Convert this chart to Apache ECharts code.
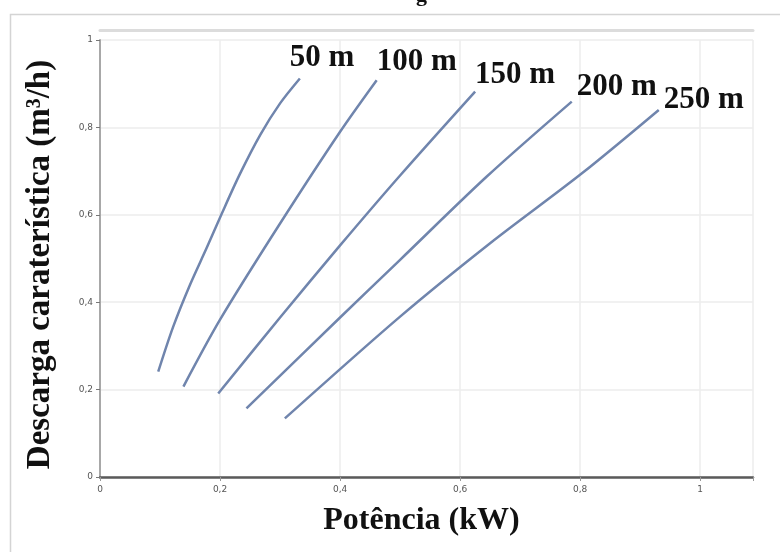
<!DOCTYPE html>
<html>
<head>
<meta charset="utf-8">
<script src="https://cdn.jsdelivr.net/npm/echarts@6/dist/echarts.min.js"></script>
<style>html,body{margin:0;padding:0;background:#fff}#c{width:780px;height:552px}</style>
</head>
<body>
<div id="c"></div>
<script>
// ---- data ----
const seriesNames = ['50 m', '100 m', '150 m', '200 m', '250 m'];
const potencia50 = [0.097, 0.122, 0.150, 0.178, 0.203, 0.233, 0.267, 0.300, 0.333];
const descarga50 = [0.241, 0.344, 0.440, 0.525, 0.603, 0.693, 0.783, 0.855, 0.912];
const potencia100 = [0.139, 0.200, 0.300, 0.400, 0.461];
const descarga100 = [0.207, 0.360, 0.580, 0.790, 0.908];
const potencia150 = [0.197, 0.300, 0.400, 0.500, 0.625];
const descarga150 = [0.191, 0.365, 0.530, 0.690, 0.882];
const potencia200 = [0.244, 0.400, 0.500, 0.644, 0.786];
const descarga200 = [0.157, 0.365, 0.497, 0.687, 0.859];
const potencia250 = [0.308, 0.500, 0.650, 0.803, 0.931];
const descarga250 = [0.134, 0.367, 0.535, 0.695, 0.840];
const xTicks = [0, 0.2, 0.4, 0.6, 0.8, 1];
const yTicks = [0, 0.2, 0.4, 0.6, 0.8, 1];

const xs = [potencia50, potencia100, potencia150, potencia200, potencia250];
const ys = [descarga50, descarga100, descarga150, descarga200, descarga250];
const labelOffsets = [[-10, -20], [0, -18], [0, -17], [5, -15], [5, -10]];

const fmt = v => String(+v.toFixed(2)).replace('.', ',');
const serif = '"Liberation Serif", "DejaVu Serif", serif';
const lineColor = '#7085ad';

const chart = echarts.init(document.getElementById('c'), null, {renderer: 'canvas'});
chart.setOption({
  animation: false,
  backgroundColor: '#fff',
  graphic: [{
    type: 'rect', left: 8, top: 12, silent: true,
    shape: {width: 800, height: 560},
    style: {fill: 'none', stroke: '#d4d4d4', lineWidth: 1.5}
  }, {
    type: 'text', left: 416, top: -16, silent: true,
    style: {text: 'g', font: 'bold 22px ' + serif, fill: '#111'}
  }],
  grid: {left: 100, right: 27, top: 40, bottom: 75, containLabel: false, outerBoundsMode: 'none'},
  xAxis: [{
    type: 'value', min: 0, max: 1.088, interval: 0.2,
    name: 'Potência (kW)', nameLocation: 'middle', nameGap: 28,
    nameTextStyle: {fontFamily: serif, fontWeight: 'bold', fontSize: 32, color: '#111', padding: [0, 10, 0, 0]},
    axisLine: {show: true, lineStyle: {color: '#5a5a5a', width: 2.5}},
    axisTick: {show: true, length: 4, lineStyle: {color: '#999'}},
    axisLabel: {
      fontSize: 9, color: '#555', fontFamily: 'DejaVu Sans', margin: 8,
      formatter: v => xTicks.includes(+v.toFixed(2)) ? fmt(v) : ''
    },
    splitLine: {show: true, lineStyle: {color: '#ececec', width: 1.5}}
  }, {
    type: 'value', position: 'top', offset: 10, min: 0, max: 1.088,
    axisLine: {show: true, onZero: false, lineStyle: {color: '#dcdcdc', width: 3}},
    axisTick: {show: false}, axisLabel: {show: false}, splitLine: {show: false}
  }],
  yAxis: {
    type: 'value', min: 0, max: 1, interval: 0.2,
    name: 'Descarga caraterística (m³/h)', nameLocation: 'middle', nameGap: 43,
    nameTextStyle: {fontFamily: serif, fontWeight: 'bold', fontSize: 33, color: '#111', padding: [0, 12, 0, 0]},
    axisLine: {show: true, lineStyle: {color: '#a8a8a8', width: 2}},
    axisTick: {show: true, length: 4, lineStyle: {color: '#777'}},
    axisLabel: {
      fontSize: 9, color: '#555', fontFamily: 'DejaVu Sans', margin: 7,
      formatter: v => yTicks.includes(+v.toFixed(2)) ? fmt(v) : ''
    },
    splitLine: {show: true, lineStyle: {color: '#ececec', width: 1.5}}
  },
  series: seriesNames.map((name, i) => ({
    name, type: 'line', smooth: 0.3, symbol: 'none',
    data: xs[i].map((x, j) => [x, ys[i][j]]),
    lineStyle: {color: lineColor, width: 2.5},
    endLabel: {
      show: true, formatter: '{a}', distance: 0, offset: labelOffsets[i],
      align: 'left', verticalAlign: 'middle',
      fontFamily: serif, fontWeight: 'bold', fontSize: 31, color: '#111'
    }
  }))
});
</script>
</body>
</html>
